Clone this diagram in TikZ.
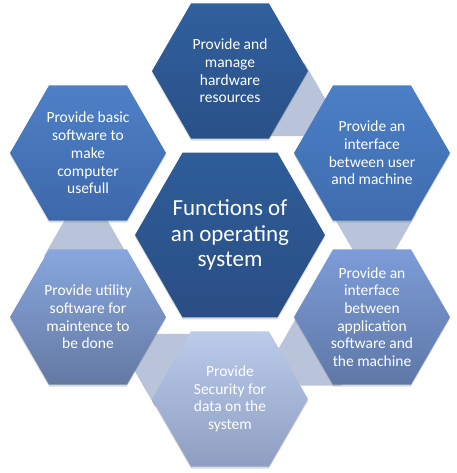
\documentclass[tikz,border=0pt]{standalone}
\usepackage{fontspec}
\setmainfont{Carlito}
\usetikzlibrary{shapes.geometric}
\usetikzlibrary{shadows}
\usepackage{xcolor}

\definecolor{linkgray}{HTML}{B9C3DA}
\definecolor{ostop}{HTML}{2E5D99}
\definecolor{osbot}{HTML}{2A4E84}
\definecolor{hwtop}{HTML}{30609D}
\definecolor{hwbot}{HTML}{2A5088}
\definecolor{uitop}{HTML}{4B7FC6}
\definecolor{uibot}{HTML}{3F6CAE}
\definecolor{apitop}{HTML}{7D9CD8}
\definecolor{apibot}{HTML}{5E77A6}
\definecolor{sectop}{HTML}{BBCBEA}
\definecolor{secbot}{HTML}{8E9EC2}
\definecolor{utiltop}{HTML}{88A7DE}
\definecolor{utilbot}{HTML}{6479A2}
\definecolor{basictop}{HTML}{4F80C6}
\definecolor{basicbot}{HTML}{3D68AA}

\tikzset{
  hexcell/.style={regular polygon, regular polygon sides=6, minimum size=156pt,
    inner sep=0pt, draw=none,
    drop shadow={shadow xshift=0pt, shadow yshift=-2pt, opacity=0.3}},
  linkhex/.style={regular polygon, regular polygon sides=6, minimum size=84pt,
    inner sep=0pt, fill=linkgray},
  celltext/.style={text=white, align=center, font=\fontsize{15.5}{17.7}\selectfont},
  maintext/.style={text=white, align=center, font=\fontsize{23}{25.5}\selectfont}
}

\begin{document}
\begin{tikzpicture}[x=1pt,y=-1pt]
  \useasboundingbox (0,0) rectangle (456,473);

  % Links between the cells
  \foreach \n/\x/\y in {l1/283.8/99.8, l2/374.0/214.0, l3/320.2/349.2, l4/176.2/370.2, l5/86.0/256.0}
  {
    \node[linkhex] (\n) at (\x,\y) {};
  }

  % Outer cells
  \node[hexcell, top color=hwtop, bottom color=hwbot] (hw) at (230,71) {};
  \node[hexcell, top color=uitop, bottom color=uibot] (ui) at (372,153) {};
  \node[hexcell, top color=apitop, bottom color=apibot] (api) at (372,317) {};
  \node[hexcell, top color=sectop, bottom color=secbot] (sec) at (230,399) {};
  \node[hexcell, top color=utiltop, bottom color=utilbot] (util) at (88,317) {};
  \node[hexcell, top color=basictop, bottom color=basicbot] (basic) at (88,153) {};

  % Centre cell
  \node[hexcell, minimum size=190pt, top color=ostop, bottom color=osbot] (os) at (230,235) {};

  % Texts
  \node[celltext] (hw-t) at (hw) {Provide and\\manage\\hardware\\resources};
  \node[celltext] (ui-t) at (ui) {Provide an\\interface\\between user\\and machine};
  \node[celltext] (api-t) at (api) {Provide an\\interface\\between\\application\\software and\\the machine};
  \node[celltext] (sec-t) at (sec) {Provide\\Security for\\data on the\\system};
  \node[celltext] (util-t) at (util) {Provide utility\\software for\\maintence to\\be done};
  \node[celltext] (basic-t) at (basic) {Provide basic\\software to\\make\\computer\\usefull};
  \node[maintext] (os-t) at (os) {Functions of\\an operating\\system};
\end{tikzpicture}
\end{document}
